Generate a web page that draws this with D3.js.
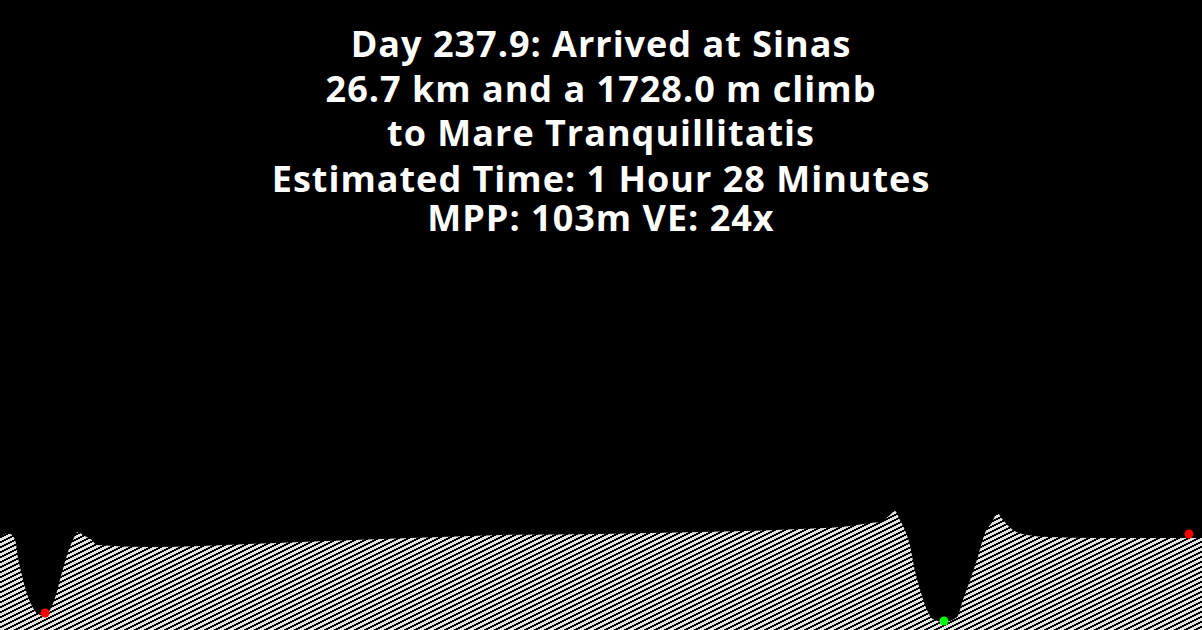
<!DOCTYPE html>
<html>
<head>
<meta charset="utf-8">
<script src="https://cdn.jsdelivr.net/npm/d3@7"></script>
<style>
  html, body { margin: 0; padding: 0; background: #000; }
  svg { display: block; }
</style>
</head>
<body>
<svg id="chart" width="1202" height="630"></svg>
<script>
// ---- Data ----
const titleLines = [
  "Day 237.9: Arrived at Sinas",
  "26.7 km and a 1728.0 m climb",
  "to Mare Tranquillitatis",
  "Estimated Time: 1 Hour 28 Minutes",
  "MPP: 103m VE: 24x"
];
// distance along route (km)
const distanceKm = [0, 0.18, 0.33, 0.40, 0.47, 0.56, 0.71, 0.84, 1.00, 1.11, 1.22, 1.38, 1.51, 1.62, 1.73, 1.84, 2.04, 2.15,
  3.33, 4.44, 5.55, 6.66, 8.44, 9.77, 11.11, 13.33, 15.55, 17.77, 18.88, 19.33, 19.55, 19.77, 19.88, 19.99, 20.10, 20.21,
  20.32, 20.44, 20.59, 20.72, 20.97, 21.26, 21.39, 21.55, 21.72, 21.88, 22.04, 22.15, 22.28, 22.50, 22.81, 23.32, 24.43, 25.54, 26.70];
// relative elevation (m above local datum)
const elevationM = [93, 97, 91, 72, 58, 42, 24, 16, 14, 20, 32, 58, 78, 90, 98, 95, 90, 85,
  83, 84, 86, 88, 91, 93, 95, 96, 98, 101, 104, 107, 108, 115, 119, 110, 100, 85,
  60, 40, 20, 11, 8, 13, 30, 50, 73, 97, 108, 117, 110, 100, 95, 93, 92, 92, 92];
// markers: start/end (red) and lowest point (green)
const markerKm = [1.00, 20.97, 26.41];
const markerElev = [17, 9, 96];
const markerColor = ["#ff0000", "#00ff00", "#ff0000"];

// ---- Layout ----
const W = 1202, H = 630;
const svg = d3.select("#chart");
svg.append("rect").attr("width", W).attr("height", H).attr("fill", "#000");

const x = d3.scaleLinear().domain([0, 26.7]).range([0, W]);
const y = d3.scaleLinear().domain([0, 120]).range([H, H - 120]);

// hatch pattern
const defs = svg.append("defs");
const pat = defs.append("pattern")
  .attr("id", "hatch")
  .attr("patternUnits", "userSpaceOnUse")
  .attr("width", 10).attr("height", 5);
pat.append("path")
  .attr("d", "M0,5 L10,0 M0,0 L10,-5 M0,10 L10,5")
  .attr("stroke", "#e2e2e2")
  .attr("stroke-width", 2.4)
  .attr("shape-rendering", "crispEdges")
  .attr("fill", "none");

const points = distanceKm.map((d, i) => ({ d, e: elevationM[i] }));

const area = d3.area()
  .x(p => x(p.d))
  .y0(H)
  .y1(p => y(p.e))
  .curve(d3.curveMonotoneX);

svg.append("path")
  .datum(points)
  .attr("d", area)
  .attr("fill", "url(#hatch)");

// markers
svg.selectAll("circle.marker")
  .data(markerKm.map((d, i) => ({ d, e: markerElev[i], c: markerColor[i] })))
  .join("circle")
  .attr("class", "marker")
  .attr("cx", p => x(p.d))
  .attr("cy", p => y(p.e))
  .attr("r", 4.5)
  .attr("fill", p => p.c);

// title
const baselines = [57, 102, 146, 192, 231];
svg.selectAll("text.title")
  .data(titleLines)
  .join("text")
  .attr("class", "title")
  .attr("x", W / 2)
  .attr("y", (d, i) => baselines[i])
  .attr("text-anchor", "middle")
  .attr("fill", "#ffffff")
  .attr("font-family", "'Open Sans', sans-serif")
  .attr("font-weight", 700)
  .attr("font-size", 36)
  .attr("letter-spacing", 1.0)
  .text(d => d);
</script>
</body>
</html>
